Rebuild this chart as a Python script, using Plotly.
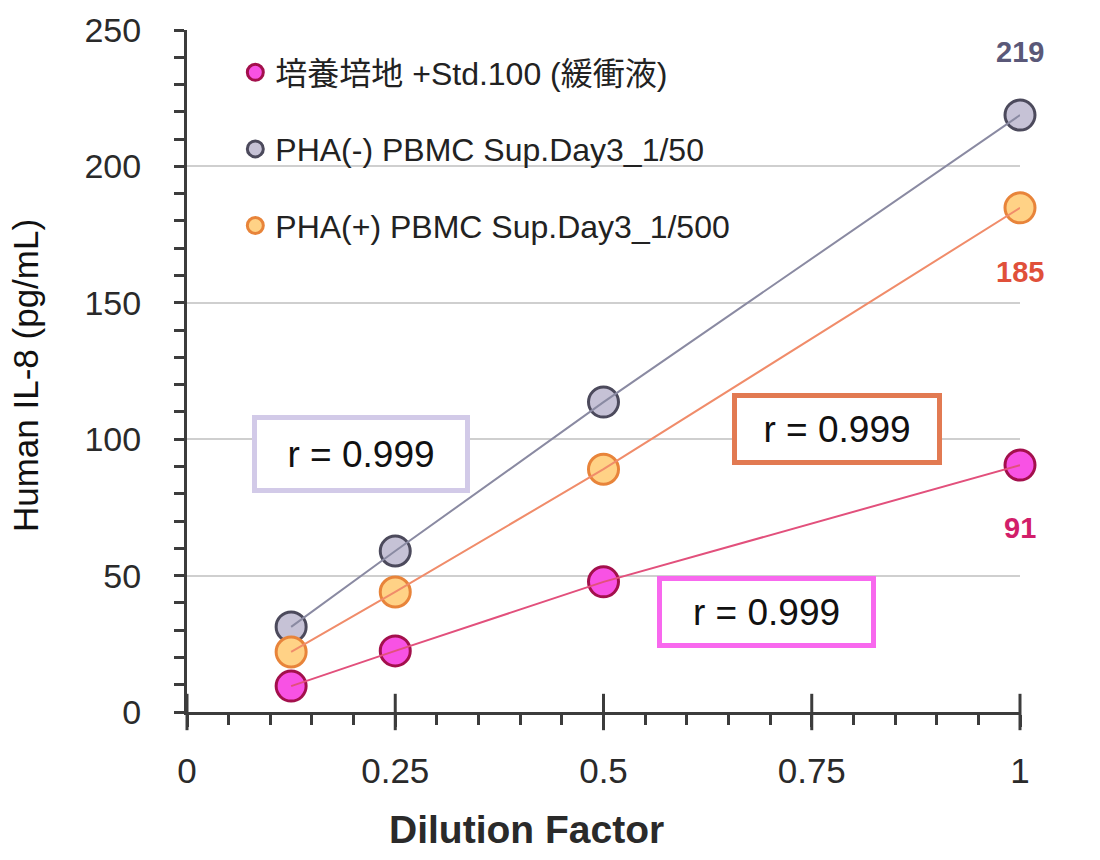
import plotly.graph_objects as go

dilution = [0.125, 0.25, 0.5, 1.0]
std100 = [9.5, 22.4, 47.7, 90.5]
pha_neg = [31.2, 59.0, 113.6, 218.8]
pha_pos = [22.0, 44.0, 89.0, 184.8]

names = ["培養培地 +Std.100 (緩衝液)", "PHA(-) PBMC Sup.Day3_1/50", "PHA(+) PBMC Sup.Day3_1/500"]
end_labels = ["91", "219", "185"]
r_text = "r = 0.999"
x_ticks = [0, 0.25, 0.5, 0.75, 1]
x_ticktext = ["0", "0.25", "0.5", "0.75", "1"]
y_ticks = [0, 50, 100, 150, 200, 250]

series = [std100, pha_neg, pha_pos]
fills = ["#f852e4", "#c6c2d6", "#ffd286"]
edges = ["#a3104c", "#4c4a5c", "#e8843a"]
lines = ["#e2507c", "#8a8aa2", "#f08c6a"]
label_colors = ["#d21e6a", "#5a5878", "#e0503a"]

FONT = "Liberation Sans, Arial, Noto Sans CJK JP, sans-serif"

fig = go.Figure()

# upper half of the crossing major x ticks
fig.add_trace(go.Scatter(x=x_ticks, y=[0] * len(x_ticks), mode="markers",
                         marker=dict(symbol="line-ns", size=26,
                                     line=dict(color="#3c3c3c", width=3)),
                         showlegend=False, cliponaxis=False, hoverinfo="skip"))

for i, ys in enumerate(series):
    fig.add_trace(go.Scatter(
        x=dilution, y=ys, mode="markers", name=names[i],
        legendgroup=f"g{i}",
        marker=dict(size=30, color=fills[i], line=dict(color=edges[i], width=3)),
        cliponaxis=False, hoverinfo="skip"))
for i, ys in enumerate(series):
    fig.add_trace(go.Scatter(
        x=dilution, y=ys, mode="lines", showlegend=False,
        line=dict(color=lines[i], width=2), cliponaxis=False, hoverinfo="skip"))

# end-value labels
shifts = [-63, 63, -64]
for i, ys in enumerate(series):
    fig.add_annotation(x=dilution[-1], y=ys[-1], text=f"<b>{end_labels[i]}</b>",
                       showarrow=False, yshift=shifts[i],
                       font=dict(family=FONT, size=29, color=label_colors[i]))

# correlation boxes
boxes = [
    dict(x=0.209, y=94.6, w=208, h=68, color="#d2cae8"),
    dict(x=0.7803, y=103.7, w=200, h=62, color="#e27a52"),
    dict(x=0.6957, y=36.7, w=209, h=62, color="#f868ee"),
]
for b in boxes:
    fig.add_annotation(x=b["x"], y=b["y"], text=r_text, showarrow=False,
                       width=b["w"], height=b["h"], align="center", valign="middle",
                       bordercolor=b["color"], borderwidth=5, borderpad=0,
                       bgcolor="white",
                       font=dict(family="Liberation Sans Narrow, Liberation Sans, Arial", size=37, color="#111"))

# axis titles
fig.add_annotation(xref="paper", yref="paper", x=0.408, y=-0.172, text="<b>Dilution Factor</b>",
                   showarrow=False, xanchor="center", yanchor="middle",
                   font=dict(family=FONT, size=39, color="#2a2a2a"))
fig.add_annotation(xref="paper", yref="paper", x=-0.1945, y=0.494, text="Human IL-8 (pg/mL)",
                   showarrow=False, textangle=-90, xanchor="center", yanchor="middle",
                   font=dict(family=FONT, size=35, color="#111"))

fig.update_layout(
    width=1100, height=860,
    margin=dict(l=187, r=80, t=30, b=148),
    paper_bgcolor="white", plot_bgcolor="white",
    font=dict(family=FONT, color="#2a2a2a"),
    showlegend=True,
    legend=dict(x=0.058, y=0.978, xanchor="left", yanchor="top",
                bgcolor="rgba(0,0,0,0)", tracegroupgap=32,
                font=dict(family=FONT, size=32, color="#222")),
    xaxis=dict(range=[0, 1], tickvals=x_ticks, ticktext=x_ticktext,
               showgrid=False, zeroline=False,
               showline=True, linecolor="#3c3c3c", linewidth=3,
               ticks="outside", ticklen=12, tickwidth=3, tickcolor="#3c3c3c",
               ticklabelstandoff=14,
               minor=dict(dtick=0.05, ticks="outside", ticklen=10, tickwidth=2.5,
                          tickcolor="#3c3c3c", showgrid=False),
               tickfont=dict(family=FONT, size=35, color="#2a2a2a")),
    yaxis=dict(range=[0, 250], tickvals=y_ticks,
               showgrid=True, gridcolor="#cfcfcf", gridwidth=2, zeroline=False,
               showline=True, linecolor="#3c3c3c", linewidth=3,
               ticks="outside", ticklen=10, tickwidth=2.5, tickcolor="#3c3c3c",
               ticklabelstandoff=26,
               minor=dict(dtick=10, ticks="outside", ticklen=10, tickwidth=2.5,
                          tickcolor="#3c3c3c", showgrid=False),
               tickfont=dict(family=FONT, size=34, color="#2a2a2a")),
)

fig.write_html("out.html")
